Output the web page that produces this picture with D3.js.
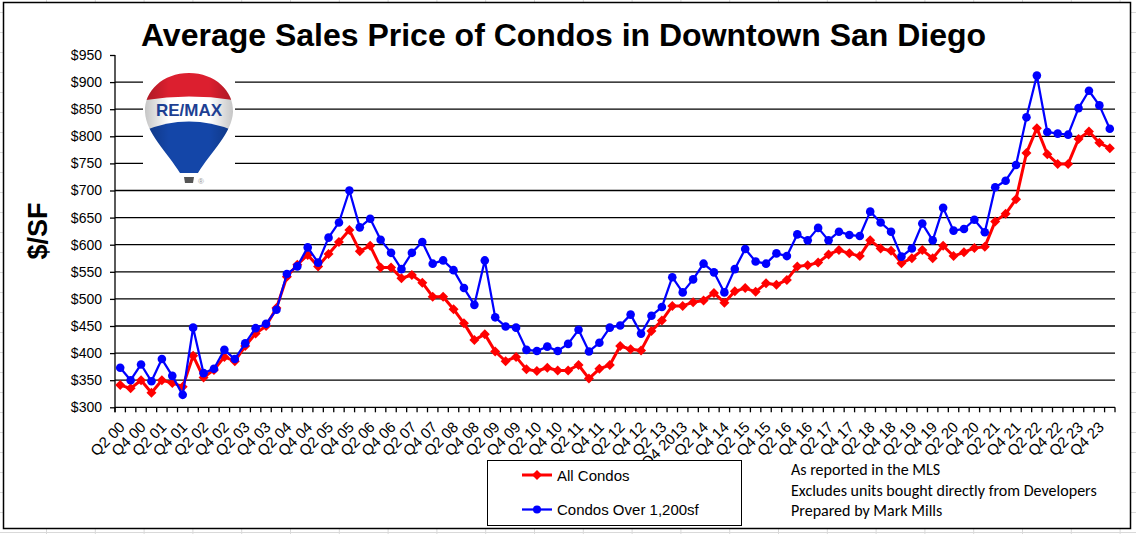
<!DOCTYPE html>
<html>
<head>
<meta charset="utf-8">
<script src="https://cdn.jsdelivr.net/npm/d3@7"></script>
<style>
  html, body { margin: 0; padding: 0; background: #fff; }
  svg { display: block; }
</style>
</head>
<body>
<div id="chart"></div>
<script>
// quarters on the x axis (Q2 2000 .. Q1 2024)
const quarters = [
  "Q2 00","Q3 00","Q4 00",
  "Q1 01","Q2 01","Q3 01","Q4 01","Q1 02","Q2 02","Q3 02","Q4 02",
  "Q1 03","Q2 03","Q3 03","Q4 03","Q1 04","Q2 04","Q3 04","Q4 04",
  "Q1 05","Q2 05","Q3 05","Q4 05","Q1 06","Q2 06","Q3 06","Q4 06",
  "Q1 07","Q2 07","Q3 07","Q4 07","Q1 08","Q2 08","Q3 08","Q4 08",
  "Q1 09","Q2 09","Q3 09","Q4 09","Q1 10","Q2 10","Q3 10","Q4 10",
  "Q1 11","Q2 11","Q3 11","Q4 11","Q1 12","Q2 12","Q3 12","Q4 12",
  "Q1 13","Q2 13","Q3 13","Q4 13","Q1 14","Q2 14","Q3 14","Q4 14",
  "Q1 15","Q2 15","Q3 15","Q4 15","Q1 16","Q2 16","Q3 16","Q4 16",
  "Q1 17","Q2 17","Q3 17","Q4 17","Q1 18","Q2 18","Q3 18","Q4 18",
  "Q1 19","Q2 19","Q3 19","Q4 19","Q1 20","Q2 20","Q3 20","Q4 20",
  "Q1 21","Q2 21","Q3 21","Q4 21","Q1 22","Q2 22","Q3 22","Q4 22",
  "Q1 23","Q2 23","Q3 23","Q4 23","Q1 24"
];

// labels shown under every second quarter
const tickLabels = [
  "Q2 00","Q4 00","Q2 01","Q4 01","Q2 02","Q4 02","Q2 03","Q4 03",
  "Q2 04","Q4 04","Q2 05","Q4 05","Q2 06","Q4 06","Q2 07","Q4 07",
  "Q2 08","Q4 08","Q2 09","Q4 09","Q2 10","Q4 10","Q2 11","Q4 11",
  "Q2 12","Q4 12","Q2 13","Q4 2013","Q2 14","Q4 14","Q2 15","Q4 15",
  "Q2 16","Q4 16","Q2 17","Q4 17","Q2 18","Q4 18","Q2 19","Q4 19",
  "Q2 20","Q4 20","Q2 21","Q4 21","Q2 22","Q4 22","Q2 23","Q4 23"
];

// $/SF, all condos
const allCondos = [
  341,335,350,327,350,345,338,395,355,369,
  393,385,413,436,450,483,541,563,581,560,
  583,605,627,588,598,558,558,538,544,530,
  504,504,481,455,424,435,403,385,393,370,
  367,373,368,368,378,353,371,378,413,407,
  405,441,460,487,487,494,497,511,493,514,
  520,513,529,526,535,560,562,567,582,590,
  584,579,608,593,589,566,575,590,575,598,
  579,586,594,596,643,657,684,769,815,767,
  749,749,795,809,788,778
];

// $/SF, condos over 1,200sf
const over1200 = [
  373,350,379,348,389,358,323,447,363,371,
  406,389,418,446,454,480,546,560,595,567,
  613,641,700,632,648,609,585,555,585,605,
  565,571,553,520,489,571,466,449,447,406,
  404,412,404,417,443,403,419,447,451,471,
  436,469,485,540,512,536,565,549,512,555,
  592,569,565,584,579,619,608,631,608,624,
  618,616,661,641,624,578,593,639,608,668,
  626,629,646,623,706,718,747,835,912,808,
  805,803,852,884,857,814
];

const yTicks = [300,350,400,450,500,550,600,650,700,750,800,850,900,950];
const seriesNames = ["All Condos", "Condos Over 1,200sf"];
const notes = ["As reported in the MLS", "Excludes units bought directly from Developers", "Prepared by Mark Mills"];

const width = 1136, height = 534;
const plot = {left: 115, right: 1115, top: 55, bottom: 407.3};

const svg = d3.select("#chart").append("svg")
  .attr("width", width)
  .attr("height", height)
  .style("font-family", "Arial, 'Liberation Sans', sans-serif");

//faint spreadsheet cells behind the chart
const cells = svg.append("g").attr("stroke", "#d9d9d9").attr("stroke-width", 1);
for (let gx = 46.5; gx < width; gx += 48.8) {
  cells.append("line").attr("x1", gx).attr("x2", gx).attr("y1", 0).attr("y2", height);
}
for (let gy = 12.5; gy < height; gy += 20) {
  cells.append("line").attr("x1", 0).attr("x2", width).attr("y1", gy).attr("y2", gy);
}

//chart box
svg.append("rect")
  .attr("x", 3.5).attr("y", 2.5)
  .attr("width", 1127).attr("height", 526)
  .attr("fill", "#fff")
  .attr("stroke", "#000")
  .attr("stroke-width", 1.5);

//scales
const x = d3.scaleBand().domain(quarters).range([plot.left, plot.right]).paddingInner(0).paddingOuter(0);
const y = d3.scaleLinear().domain([300, 950]).range([plot.bottom, plot.top]);
const cx = d => x(d) + x.bandwidth() / 2;

//gridlines
svg.append("g")
  .selectAll("line")
  .data(yTicks.filter(t => t > 300 && t < 950))
  .join("line")
  .attr("x1", plot.left).attr("x2", plot.right)
  .attr("y1", d => y(d)).attr("y2", d => y(d))
  .attr("stroke", "#000")
  .attr("stroke-width", 1.3);

//y axis
const yAxis = svg.append("g")
  .attr("transform", "translate(" + plot.left + ",0)")
  .call(d3.axisLeft(y).tickValues(yTicks).tickSize(5).tickPadding(8).tickFormat(d => "$" + d));
yAxis.select(".domain").attr("stroke", "#000").attr("stroke-width", 1.3).attr("d", "M0," + plot.top + "V" + (plot.bottom + 5));
yAxis.selectAll(".tick line").attr("stroke", "#000").attr("stroke-width", 1.3);
yAxis.selectAll(".tick text").style("font-size", "14px").attr("fill", "#000").style("font-family", "Arial, 'Liberation Sans', sans-serif");

//x axis line + ticks at category edges
svg.append("line")
  .attr("x1", plot.left).attr("x2", plot.right)
  .attr("y1", plot.bottom).attr("y2", plot.bottom)
  .attr("stroke", "#000").attr("stroke-width", 1.3);
svg.append("g")
  .selectAll("line")
  .data(quarters.map(q => x(q)).concat([plot.right]))
  .join("line")
  .attr("x1", d => d).attr("x2", d => d)
  .attr("y1", plot.bottom).attr("y2", plot.bottom + 5)
  .attr("stroke", "#000").attr("stroke-width", 1.3);

//x labels, rotated
svg.append("g")
  .selectAll("text")
  .data(tickLabels)
  .join("text")
  .attr("transform", (d, i) => "translate(" + (cx(quarters[i * 2]) + 5.5) + "," + 428 + ") rotate(-45)")
  .attr("text-anchor", "end")
  .style("font-size", "15px")
  .text(d => d);

//logo: RE/MAX balloon
const logo = svg.append("g").attr("transform", "translate(189,0)");
logo.append("rect").attr("x", -46).attr("y", 66).attr("width", 92).attr("height", 122).attr("fill", "#fff");
const defs = svg.append("defs");
defs.append("clipPath").attr("id", "envelope")
  .append("path")
  .attr("d", "M0,73 C26,73 45,91 44,112 C43,133 22,152 9,173 L-9,173 C-22,152 -43,133 -44,112 C-45,91 -26,73 0,73 Z");
const shade = defs.append("linearGradient").attr("id", "shade").attr("x1", "0%").attr("x2", "100%");
shade.append("stop").attr("offset", "0%").style("stop-color", "#000").style("stop-opacity", 0.28);
shade.append("stop").attr("offset", "30%").style("stop-color", "#000").style("stop-opacity", 0.0);
shade.append("stop").attr("offset", "70%").style("stop-color", "#000").style("stop-opacity", 0.0);
shade.append("stop").attr("offset", "100%").style("stop-color", "#000").style("stop-opacity", 0.28);
const env = logo.append("g").attr("clip-path", "url(#envelope)");
env.append("rect").attr("x", -50).attr("y", 70).attr("width", 100).attr("height", 110).attr("fill", "#fff");
env.append("path").attr("d", "M-50,68 L50,68 L50,101 Q0,92 -50,101 Z").attr("fill", "#dc1f2f");
env.append("path").attr("d", "M-50,133 Q0,110 50,133 L50,180 L-50,180 Z").attr("fill", "#1446a8");
env.append("rect").attr("x", -50).attr("y", 68).attr("width", 100).attr("height", 112).attr("fill", "url(#shade)");
logo.append("text")
  .attr("x", 0).attr("y", 116)
  .attr("text-anchor", "middle")
  .style("font-size", "17px").style("font-weight", "bold")
  .attr("fill", "#1d3f93")
  .text("RE/MAX");
logo.append("path").attr("d", "M-5,177 L5,177 L4,183 L-4,183 Z").attr("fill", "#555");
logo.append("text").attr("x", 9).attr("y", 184).style("font-size", "8px").attr("fill", "#999").text("®");

//lines
const line = d3.line().x((d, i) => cx(quarters[i])).y(d => y(d));
const diamond = "M0,-5L5,0L0,5L-5,0Z";

svg.append("path")
  .datum(allCondos)
  .attr("d", line)
  .attr("fill", "none")
  .attr("stroke", "#ff0000")
  .attr("stroke-width", 3)
  .attr("stroke-linejoin", "round");
svg.append("g")
  .selectAll("path")
  .data(allCondos)
  .join("path")
  .attr("d", diamond)
  .attr("transform", (d, i) => "translate(" + cx(quarters[i]) + "," + y(d) + ")")
  .attr("fill", "#ff0000");

svg.append("path")
  .datum(over1200)
  .attr("d", line)
  .attr("fill", "none")
  .attr("stroke", "#0000ff")
  .attr("stroke-width", 2.25)
  .attr("stroke-linejoin", "round");
svg.append("g")
  .selectAll("circle")
  .data(over1200)
  .join("circle")
  .attr("cx", (d, i) => cx(quarters[i]))
  .attr("cy", d => y(d))
  .attr("r", 4.3)
  .attr("fill", "#0000ff");

//title
svg.append("text")
  .attr("x", 563.5).attr("y", 46)
  .attr("text-anchor", "middle")
  .style("font-size", "32px").style("font-weight", "bold")
  .text("Average Sales Price of Condos in Downtown San Diego");

//y title
svg.append("text")
  .attr("transform", "translate(47,231) rotate(-90)")
  .attr("text-anchor", "middle")
  .style("font-size", "27px").style("font-weight", "bold")
  .text("$/SF");

//legend
const legend = svg.append("g");
legend.append("rect")
  .attr("x", 487.5).attr("y", 460.5).attr("width", 254).attr("height", 65)
  .attr("fill", "#fff").attr("stroke", "#000").attr("stroke-width", 1);
[475, 509.5].forEach((ly, i) => {
  legend.append("line")
    .attr("x1", 522).attr("x2", 552).attr("y1", ly).attr("y2", ly)
    .attr("stroke", i == 0 ? "#ff0000" : "#0000ff")
    .attr("stroke-width", i == 0 ? 3 : 2.25);
  if (i == 0) {
    legend.append("path").attr("d", diamond).attr("transform", "translate(537," + ly + ")").attr("fill", "#ff0000");
  } else {
    legend.append("circle").attr("cx", 537).attr("cy", ly).attr("r", 4).attr("fill", "#0000ff");
  }
  legend.append("text")
    .attr("x", 557).attr("y", ly + 5.5)
    .style("font-size", "15px")
    .text(seriesNames[i]);
});

//notes, sized so the longest line spans ~306px like the original
const noteText = svg.append("g")
  .selectAll("text")
  .data(notes)
  .join("text")
  .attr("x", 791)
  .attr("y", (d, i) => 475 + i * 20.7)
  .style("font-family", "Carlito, Lato, sans-serif")
  .style("font-size", "14px")
  .text(d => d);
const longest = d3.max(noteText.nodes(), n => n.getComputedTextLength());
noteText.style("font-size", (14 * 306 / longest).toFixed(2) + "px");
</script>
</body>
</html>
